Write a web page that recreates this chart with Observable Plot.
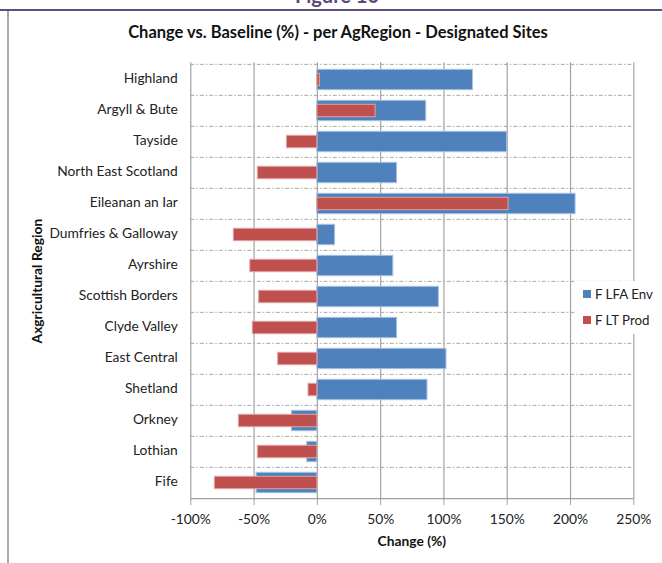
<!DOCTYPE html>
<html>
<head>
<meta charset="utf-8">
<script src="https://cdn.jsdelivr.net/npm/d3@7"></script>
<script src="https://cdn.jsdelivr.net/npm/@observablehq/plot@0.6"></script>
<style>
  html, body { margin: 0; padding: 0; background: #fff; }
  #chart { width: 662px; height: 563px; overflow: hidden; }
  #chart svg { display: block; }
</style>
</head>
<body>
<div id="chart"></div>
<script>
// Agricultural regions, top to bottom
const regions = [
  "Highland", "Argyll & Bute", "Tayside", "North East Scotland", "Eileanan an Iar",
  "Dumfries & Galloway", "Ayrshire", "Scottish Borders", "Clyde Valley", "East Central",
  "Shetland", "Orkney", "Lothian", "Fife"
];
// Change vs. baseline (%) for each scenario
const lfaEnv = [123, 86, 150, 63, 204, 14, 60, 96, 63, 102, 87, -20, -8, -48];
const ltProd = [2, 46, -24, -47, 151, -66, -53, -46, -51, -31, -7, -62, -47, -81];
const seriesNames = ["F LFA Env", "F LT Prod"];
const seriesColors = ["#4f81bd", "#c0504d"];
const xTicks = [-100, -50, 0, 50, 100, 150, 200, 250];

const W = 662, H = 563;
const M = {top: 62.3, right: 28.7, bottom: 63, left: 190.3};
const step = (H - M.top - M.bottom) / regions.length;
const font = "Lato, 'Liberation Sans', sans-serif";
const fs = 13.8;

const rows = regions.map((region, i) => ({region, env: lfaEnv[i], prod: ltProd[i]}));

const svg = Plot.plot({
  width: W,
  height: H,
  marginTop: M.top,
  marginRight: M.right,
  marginBottom: M.bottom,
  marginLeft: M.left,
  style: {fontFamily: font, fontSize: fs + "px", color: "#222", background: "#fff", overflow: "visible"},
  x: {domain: [-100, 250]},
  y: {domain: regions, padding: 0},
  marks: [
    // category boundaries (dash-dot)
    Plot.ruleY(regions, {y: d => d, dy: -step / 2, stroke: "#a8a8a8", strokeWidth: 1, strokeDasharray: "4,2,1.5,2"}),
    // vertical gridlines
    Plot.ruleX(xTicks, {stroke: "#a3a3a3", strokeWidth: 1.2}),
    // bars: F LFA Env (wide) behind F LT Prod (narrow)
    Plot.barX(rows, {y: "region", x1: 0, x2: "env", fill: seriesColors[0], stroke: "#a9c2e2", strokeWidth: 1, insetTop: 5.3, insetBottom: 5.3}),
    Plot.barX(rows, {y: "region", x1: 0, x2: "prod", fill: seriesColors[1], stroke: "#dea3a1", strokeWidth: 1, insetTop: 9.3, insetBottom: 9.3}),
    // x axis line
    Plot.ruleY([regions[regions.length - 1]], {dy: step / 2, stroke: "#a3a3a3", strokeWidth: 1.2}),
    Plot.axisX({ticks: xTicks, tickSize: 5, tickPadding: 9, tickFormat: d => d + "%", label: null, stroke: "#a3a3a3", fill: "#222"}),
    Plot.axisY({tickSize: 0, tickPadding: 13, dy: -1, label: null, fill: "#222"})
  ]
});

document.getElementById("chart").appendChild(svg);

const s = d3.select(svg);

// page decoration: heading and rules
s.append("text")
  .attr("x", 337).attr("y", 3)
  .attr("text-anchor", "middle")
  .attr("font-family", font).attr("font-weight", "bold").attr("font-size", 20)
  .attr("fill", "#5f497a")
  .text("Figure 10");
s.append("line")
  .attr("x1", 0).attr("x2", W).attr("y1", 10).attr("y2", 10)
  .attr("stroke", "#5f4f7a").attr("stroke-width", 2);
s.append("line")
  .attr("x1", 8).attr("x2", 8).attr("y1", 11).attr("y2", H)
  .attr("stroke", "#8c8c8c").attr("stroke-width", 1.5);

// chart title
s.append("text")
  .attr("x", 338).attr("y", 38)
  .attr("text-anchor", "middle")
  .attr("font-family", font).attr("font-weight", "bold").attr("font-size", 16.5)
  .attr("fill", "#111")
  .text("Change vs. Baseline (%) - per AgRegion - Designated Sites");

// axis titles
s.append("text")
  .attr("x", (M.left + W - M.right) / 2).attr("y", 546)
  .attr("text-anchor", "middle")
  .attr("font-family", font).attr("font-weight", "bold").attr("font-size", fs)
  .attr("fill", "#111")
  .text("Change (%)");
s.append("text")
  .attr("transform", `translate(42,${(M.top + H - M.bottom) / 2}) rotate(-90)`)
  .attr("text-anchor", "middle")
  .attr("font-family", font).attr("font-weight", "bold").attr("font-size", fs)
  .attr("fill", "#111")
  .text("Axgricultural Region");

// legend
const lg = s.append("g");
lg.append("rect").attr("x", 576).attr("y", 281).attr("width", 90).attr("height", 53).attr("fill", "#fff");
seriesNames.forEach((name, i) => {
  const y = 294 + i * 26;
  lg.append("rect")
    .attr("x", 583).attr("y", y - 4).attr("width", 8).attr("height", 8)
    .attr("fill", seriesColors[i]);
  lg.append("text")
    .attr("x", 595).attr("y", y).attr("dy", "0.35em")
    .attr("text-anchor", "start")
    .attr("font-family", font).attr("font-size", fs - 0.5).attr("fill", "#222")
    .text(name);
});
</script>
</body>
</html>
